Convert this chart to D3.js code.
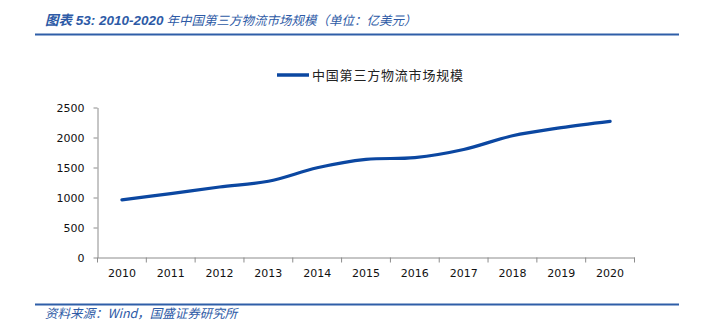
<!DOCTYPE html>
<html><head><meta charset="utf-8">
<script src="https://cdn.jsdelivr.net/npm/d3@7"></script>
<style>
html,body{margin:0;padding:0;background:#fff;}
svg{display:block;}
</style></head>
<body>
<svg id="c" width="706" height="333"></svg>
<script>
const years = ["2010","2011","2012","2013","2014","2015","2016","2017","2018","2019","2020"];
const marketSize = [960, 1065, 1175, 1270, 1495, 1635, 1665, 1800, 2030, 2165, 2270];
const yTicks = [0, 500, 1000, 1500, 2000, 2500];
const seriesName = "中国第三方物流市场规模";
const titleNum = "图表 53:  2010-2020";
const titleRest = " 年中国第三方物流市场规模（单位：亿美元）";
const sourceText = "资料来源：Wind，国盛证券研究所";

const svg = d3.select("#c");
const blue = "#0B47A1";
const ruleBlue = "#2F5EA8";
const textBlue = "#2D5AA6";

const x = d3.scaleBand().domain(years).range([97.5, 634.5]);
const y = d3.scaleLinear().domain([0, 2500]).range([257.5, 107.5]);

// title
const t = svg.append("text").attr("x", 45).attr("y", 25)
  .attr("fill", textBlue).attr("font-style", "italic");
t.append("tspan").attr("font-weight", "bold").attr("font-size", 13.5)
  .attr("font-family", "'Liberation Sans','Noto Sans CJK SC',sans-serif").text(titleNum);
t.append("tspan").attr("font-size", 12.5).attr("font-family", "'Noto Sans CJK SC',sans-serif").text(titleRest);

svg.append("line").attr("x1", 35).attr("x2", 679).attr("y1", 34.5).attr("y2", 34.5)
  .attr("stroke", ruleBlue).attr("stroke-width", 2);
svg.append("line").attr("x1", 35).attr("x2", 679).attr("y1", 304.5).attr("y2", 304.5)
  .attr("stroke", ruleBlue).attr("stroke-width", 2);

svg.append("text").attr("x", 45).attr("y", 318)
  .attr("fill", textBlue).attr("font-style", "italic").attr("font-size", 12.5)
  .attr("font-family", "'Noto Sans CJK SC',sans-serif").text(sourceText);

// legend
svg.append("line").attr("x1", 277).attr("x2", 309).attr("y1", 75).attr("y2", 75)
  .attr("stroke", blue).attr("stroke-width", 3.5);
svg.append("text").attr("x", 312).attr("y", 80).attr("font-size", 13)
  .attr("letter-spacing", 0.8).attr("fill", "#222")
  .attr("font-family", "'Noto Sans CJK SC',sans-serif").text(seriesName);

// axes
const axisColor = "#8c8c8c";
const yAxis = svg.append("g").attr("transform", "translate(97.5,0)")
  .call(d3.axisLeft(y).tickValues(yTicks).tickFormat(d3.format("d"))
    .tickSize(4).tickPadding(9).tickSizeOuter(0));
const xAxis = svg.append("g").attr("transform", "translate(0,257.5)")
  .call(d3.axisBottom(x).tickSize(0).tickPadding(12));
// band boundary ticks
const bounds = years.map(d => x(d)).concat([x.range()[1]]);
xAxis.selectAll(".btick").data(bounds).enter().append("line")
  .attr("class", "btick").attr("x1", d => d).attr("x2", d => d)
  .attr("y1", 0).attr("y2", 5).attr("stroke", axisColor);
[yAxis, xAxis].forEach(g => {
  g.selectAll(".domain").attr("stroke", axisColor);
  g.selectAll(".tick line").attr("stroke", axisColor);
  g.selectAll("text").attr("font-family", "'DejaVu Sans',sans-serif")
    .attr("font-size", 11).attr("fill", "#111");
});

// line
const line = d3.line()
  .x((d, i) => x(years[i]) + x.bandwidth() / 2)
  .y(d => y(d))
  .curve(d3.curveCatmullRom.alpha(0.5));
svg.append("path").datum(marketSize).attr("d", line)
  .attr("fill", "none").attr("stroke", blue).attr("stroke-width", 3.2)
  .attr("stroke-linecap", "round");
</script>
</body></html>
